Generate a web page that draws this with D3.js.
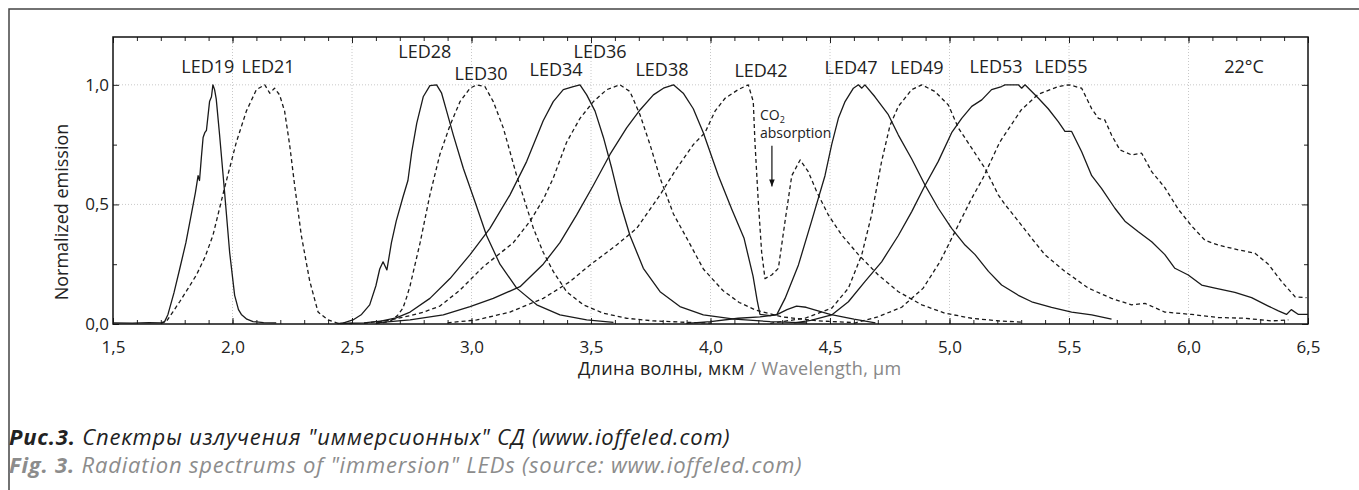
<!DOCTYPE html>
<html>
<head>
<meta charset="utf-8">
<script src="https://cdn.jsdelivr.net/npm/d3@7"></script>
<style>
  body { margin: 0; background: #fff; }
  svg { display: block; font-family: "Open Sans", sans-serif; }
</style>
</head>
<body>
<svg width="1359" height="490"></svg>
<script>
// spectra: [wavelength um, normalized emission]
var led19 = [[1.50,0.005],[1.58,0.004],[1.65,0.006],[1.70,0.005],[1.716,0.01],[1.730,0.04],[1.755,0.13],[1.779,0.23],[1.805,0.34],[1.828,0.46],[1.845,0.55],[1.856,0.62],[1.862,0.60],[1.870,0.70],[1.877,0.78],[1.884,0.80],[1.891,0.81],[1.904,0.93],[1.912,0.95],[1.918,1.0],[1.925,0.98],[1.932,0.94],[1.946,0.79],[1.967,0.55],[1.988,0.30],[2.009,0.12],[2.025,0.06],[2.037,0.04],[2.06,0.02],[2.086,0.01],[2.13,0.006],[2.183,0.005]];
var led21 = [[1.70,0.002],[1.723,0.01],[1.75,0.05],[1.779,0.093],[1.815,0.15],[1.849,0.205],[1.885,0.28],[1.918,0.37],[1.967,0.57],[2.016,0.76],[2.058,0.89],[2.100,0.98],[2.135,1.0],[2.156,0.965],[2.176,0.986],[2.197,0.958],[2.218,0.89],[2.239,0.75],[2.260,0.58],[2.288,0.37],[2.323,0.18],[2.358,0.05],[2.400,0.017],[2.441,0.003],[2.50,0.002]];
var led28 = [[2.44,0.002],[2.462,0.004],[2.504,0.017],[2.54,0.04],[2.574,0.08],[2.60,0.16],[2.616,0.23],[2.630,0.26],[2.646,0.226],[2.665,0.34],[2.685,0.43],[2.713,0.53],[2.734,0.60],[2.750,0.72],[2.771,0.84],[2.798,0.95],[2.826,0.997],[2.854,1.0],[2.875,0.965],[2.896,0.89],[2.924,0.79],[2.966,0.65],[3.015,0.51],[3.063,0.37],[3.119,0.25],[3.189,0.15],[3.273,0.08],[3.370,0.038],[3.482,0.017],[3.594,0.007]];
var led30 = [[2.60,0.002],[2.658,0.01],[2.69,0.035],[2.713,0.066],[2.728,0.11],[2.743,0.16],[2.785,0.34],[2.826,0.54],[2.868,0.71],[2.910,0.83],[2.952,0.93],[2.994,0.986],[3.022,1.0],[3.056,0.993],[3.091,0.93],[3.133,0.82],[3.161,0.72],[3.189,0.62],[3.224,0.51],[3.259,0.40],[3.300,0.30],[3.342,0.22],[3.398,0.135],[3.468,0.08],[3.552,0.045],[3.649,0.024],[3.761,0.013],[3.900,0.007],[4.0,0.004]];
var led34 = [[2.45,0.002],[2.55,0.005],[2.62,0.012],[2.685,0.026],[2.743,0.05],[2.826,0.107],[2.910,0.19],[2.994,0.29],[3.077,0.40],[3.161,0.54],[3.231,0.68],[3.300,0.85],[3.342,0.93],[3.384,0.98],[3.426,0.993],[3.454,1.0],[3.482,0.958],[3.517,0.89],[3.552,0.78],[3.587,0.65],[3.621,0.51],[3.663,0.37],[3.719,0.233],[3.789,0.135],[3.872,0.073],[3.970,0.038],[4.10,0.02],[4.25,0.01],[4.40,0.005]];
var led36 = [[2.55,0.003],[2.65,0.015],[2.743,0.035],[2.80,0.05],[2.868,0.075],[2.95,0.14],[3.05,0.24],[3.10,0.28],[3.175,0.34],[3.245,0.43],[3.30,0.52],[3.342,0.61],[3.398,0.76],[3.454,0.86],[3.510,0.93],[3.566,0.98],[3.621,1.0],[3.663,0.972],[3.705,0.875],[3.747,0.75],[3.789,0.61],[3.845,0.46],[3.90,0.36],[3.927,0.31],[3.97,0.23],[4.052,0.14],[4.12,0.09],[4.19,0.058],[4.30,0.03],[4.45,0.013],[4.60,0.006]];
var led38 = [[2.60,0.005],[2.743,0.017],[2.882,0.038],[2.994,0.073],[3.091,0.107],[3.203,0.156],[3.300,0.25],[3.370,0.34],[3.440,0.456],[3.510,0.58],[3.580,0.71],[3.649,0.82],[3.705,0.895],[3.761,0.958],[3.803,0.986],[3.845,1.0],[3.886,0.965],[3.928,0.90],[3.970,0.80],[4.033,0.62],[4.089,0.48],[4.140,0.36],[4.178,0.20],[4.195,0.10],[4.207,0.04],[4.25,0.035],[4.28,0.04],[4.32,0.06],[4.36,0.075],[4.40,0.07],[4.45,0.055],[4.50,0.04],[4.60,0.02],[4.69,0.005]];
var led42 = [[2.90,0.005],[3.022,0.017],[3.161,0.05],[3.300,0.107],[3.412,0.177],[3.496,0.247],[3.607,0.33],[3.691,0.40],[3.789,0.54],[3.858,0.65],[3.928,0.75],[3.977,0.80],[4.019,0.89],[4.061,0.944],[4.116,0.98],[4.158,1.0],[4.179,0.93],[4.186,0.76],[4.200,0.51],[4.214,0.30],[4.228,0.19],[4.256,0.205],[4.284,0.233],[4.312,0.43],[4.340,0.62],[4.375,0.686],[4.409,0.637],[4.444,0.554],[4.493,0.456],[4.549,0.372],[4.619,0.29],[4.702,0.205],[4.786,0.135],[4.884,0.08],[4.981,0.045],[5.093,0.024],[5.204,0.013],[5.30,0.008]];
var led47 = [[3.90,0.003],[4.0,0.01],[4.116,0.024],[4.207,0.03],[4.277,0.038],[4.312,0.107],[4.368,0.247],[4.423,0.43],[4.479,0.62],[4.507,0.75],[4.535,0.86],[4.563,0.93],[4.598,0.986],[4.619,1.0],[4.633,0.986],[4.646,1.0],[4.688,0.95],[4.744,0.875],[4.786,0.79],[4.842,0.69],[4.898,0.58],[4.953,0.484],[5.009,0.40],[5.065,0.33],[5.107,0.29],[5.163,0.22],[5.218,0.163],[5.288,0.12],[5.344,0.093],[5.427,0.07],[5.511,0.05],[5.595,0.038],[5.678,0.02]];
var led49 = [[4.25,0.003],[4.395,0.024],[4.507,0.066],[4.577,0.15],[4.633,0.29],[4.674,0.456],[4.716,0.68],[4.751,0.83],[4.786,0.91],[4.842,0.98],[4.884,1.0],[4.939,0.972],[4.995,0.916],[5.037,0.82],[5.093,0.735],[5.149,0.65],[5.204,0.54],[5.232,0.50],[5.288,0.43],[5.344,0.358],[5.399,0.29],[5.483,0.22],[5.581,0.15],[5.678,0.107],[5.762,0.08],[5.818,0.086],[5.901,0.05],[6.013,0.04],[6.125,0.027],[6.236,0.024],[6.348,0.013],[6.418,0.017]];
var led53 = [[4.35,0.005],[4.42,0.015],[4.507,0.038],[4.577,0.093],[4.646,0.177],[4.716,0.26],[4.786,0.37],[4.842,0.47],[4.898,0.58],[4.953,0.68],[5.009,0.80],[5.051,0.86],[5.093,0.91],[5.135,0.937],[5.176,0.98],[5.218,0.993],[5.232,1.0],[5.288,1.0],[5.302,0.986],[5.316,1.0],[5.344,0.972],[5.372,0.944],[5.413,0.90],[5.455,0.846],[5.483,0.805],[5.511,0.805],[5.553,0.72],[5.595,0.62],[5.636,0.567],[5.692,0.484],[5.734,0.43],[5.790,0.386],[5.846,0.344],[5.901,0.29],[5.943,0.233],[5.999,0.205],[6.055,0.163],[6.111,0.15],[6.194,0.132],[6.264,0.11],[6.334,0.075],[6.376,0.055],[6.41,0.04],[6.43,0.06],[6.46,0.04],[6.50,0.04]];
var led55 = [[4.60,0.003],[4.70,0.03],[4.80,0.07],[4.89,0.15],[4.96,0.26],[5.02,0.38],[5.09,0.52],[5.14,0.61],[5.21,0.76],[5.30,0.895],[5.37,0.96],[5.455,0.993],[5.50,1.0],[5.553,0.986],[5.595,0.90],[5.623,0.86],[5.650,0.853],[5.678,0.79],[5.713,0.728],[5.762,0.707],[5.804,0.714],[5.846,0.637],[5.901,0.57],[5.957,0.48],[6.013,0.41],[6.069,0.35],[6.125,0.33],[6.208,0.31],[6.278,0.296],[6.334,0.25],[6.390,0.177],[6.446,0.114],[6.494,0.11]];

var seriesNames = ["LED19","LED21","LED28","LED30","LED34","LED36","LED38","LED42","LED47","LED49","LED53","LED55"];
var seriesData = [led19, led21, led28, led30, led34, led36, led38, led42, led47, led49, led53, led55];
// where each name sits, in data units (wavelength, emission)
var labelX = [1.897, 2.149, 2.805, 3.040, 3.354, 3.538, 3.797, 4.211, 4.588, 4.864, 5.195, 5.467];
var labelY = [1.050, 1.050, 1.113, 1.021, 1.038, 1.113, 1.038, 1.033, 1.046, 1.046, 1.050, 1.050];

var xTicks = [1.5, 2.0, 2.5, 3.0, 3.5, 4.0, 4.5, 5.0, 5.5, 6.0, 6.5];
var yTicks = [0, 0.5, 1.0];

var svg = d3.select("svg"),
    width = +svg.attr("width"),
    height = +svg.attr("height");

// plot box (note: "top" is taken by window.top)
var pLeft = 113, pRight = 1308, pTop = 37, pBottom = 324;

var x = d3.scaleLinear().domain([1.5, 6.5]).range([pLeft, pRight]);
var y = d3.scaleLinear().domain([0, 1.2]).range([pBottom, pTop]);
var fmt = function(d) { return d3.format(".1f")(d).replace(".", ","); };

// outer frame (runs off the right and bottom edges)
svg.append("path")
    .attr("d", "M9," + (height + 5) + "V9H" + (width + 5))
    .attr("fill", "none")
    .attr("stroke", "#444")
    .attr("stroke-width", 1.5);

// dotted grid
var grid = svg.append("g").attr("stroke", "#c8c8c8").attr("stroke-dasharray", "1,2");
grid.selectAll("line.v")
    .data(xTicks.slice(1, -1))
    .enter().append("line").attr("class", "v")
    .attr("x1", d => x(d)).attr("x2", d => x(d))
    .attr("y1", pTop).attr("y2", pBottom);
grid.selectAll("line.h")
    .data(yTicks.slice(1))
    .enter().append("line").attr("class", "h")
    .attr("x1", pLeft).attr("x2", pRight)
    .attr("y1", d => y(d)).attr("y2", d => y(d));

// axes, ticks pointing inwards
var minorX = d3.range(15, 66).map(d => d / 10);
var minorY = [0.25, 0.75];

function noLabels(g) { g.selectAll("text").remove(); g.select(".domain").remove(); }

svg.append("g").attr("transform", "translate(0," + pBottom + ")")
    .call(d3.axisBottom(x).tickValues(minorX).tickSize(-4)).call(noLabels);
svg.append("g").attr("transform", "translate(0," + pTop + ")")
    .call(d3.axisTop(x).tickValues(minorX).tickSize(-4)).call(noLabels);
svg.append("g").attr("transform", "translate(0," + pTop + ")")
    .call(d3.axisTop(x).tickValues(xTicks).tickSize(-6)).call(noLabels);
svg.append("g").attr("transform", "translate(" + pLeft + ",0)")
    .call(d3.axisLeft(y).tickValues(minorY).tickSize(-4)).call(noLabels);
svg.append("g").attr("transform", "translate(" + pRight + ",0)")
    .call(d3.axisRight(y).tickValues(minorY).tickSize(-4)).call(noLabels);
svg.append("g").attr("transform", "translate(" + pRight + ",0)")
    .call(d3.axisRight(y).tickValues(yTicks).tickSize(-6)).call(noLabels);

var xAxis = svg.append("g").attr("transform", "translate(0," + pBottom + ")")
    .call(d3.axisBottom(x).tickValues(xTicks).tickFormat(fmt).tickSize(-6).tickPadding(17));
var yAxis = svg.append("g").attr("transform", "translate(" + pLeft + ",0)")
    .call(d3.axisLeft(y).tickValues(yTicks).tickFormat(fmt).tickSize(-6).tickPadding(4));
[xAxis, yAxis].forEach(function(g) {
  g.select(".domain").remove();
  g.selectAll("text").attr("font-size", 17).attr("font-family", "Open Sans").attr("fill", "#222");
});
svg.selectAll(".tick line").attr("stroke", "#222");

// plot frame
svg.append("rect")
    .attr("x", pLeft).attr("y", pTop)
    .attr("width", pRight - pLeft).attr("height", pBottom - pTop)
    .attr("fill", "none").attr("stroke", "#111").attr("stroke-width", 1.5);

// spectra
var line = d3.line().x(d => x(d[0])).y(d => y(d[1]));
svg.append("g").selectAll("path")
    .data(seriesData)
    .enter().append("path")
    .attr("d", line)
    .attr("fill", "none")
    .attr("stroke", "#1a1a1a")
    .attr("stroke-width", 1.3)
    .attr("stroke-linejoin", "round")
    .attr("stroke-dasharray", (d, i) => i % 2 ? "4,3" : null);

// series names
svg.append("g").selectAll("text")
    .data(seriesNames)
    .enter().append("text")
    .attr("x", (d, i) => x(labelX[i]))
    .attr("y", (d, i) => y(labelY[i]))
    .attr("text-anchor", "middle")
    .attr("font-size", 18)
    .attr("fill", "#222")
    .text(d => d);

svg.append("text")
    .attr("x", x(6.232)).attr("y", y(1.05))
    .attr("text-anchor", "middle").attr("font-size", 18).attr("fill", "#222")
    .text("22°C");

// CO2 note
var co2 = svg.append("text")
    .attr("x", x(4.207)).attr("y", y(0.855))
    .attr("font-size", 14).attr("fill", "#222");
co2.append("tspan").text("CO");
co2.append("tspan").attr("font-size", 9).attr("dy", 3).text("2");
svg.append("text")
    .attr("x", x(4.207)).attr("y", y(0.779))
    .attr("font-size", 14).attr("fill", "#222")
    .text("absorption");

svg.append("defs").append("marker")
    .attr("id", "arrow").attr("viewBox", "0 0 10 10")
    .attr("refX", 10).attr("refY", 5)
    .attr("markerWidth", 7).attr("markerHeight", 7)
    .attr("markerUnits", "userSpaceOnUse")
    .attr("orient", "auto")
  .append("path").attr("d", "M0,1L10,5L0,9Z").attr("fill", "#111");
svg.append("line")
    .attr("x1", x(4.257)).attr("x2", x(4.257))
    .attr("y1", y(0.745)).attr("y2", y(0.575))
    .attr("stroke", "#111").attr("stroke-width", 1.2)
    .attr("marker-end", "url(#arrow)");

// axis titles
svg.append("text")
    .attr("transform", "translate(68," + 212 + ") rotate(-90)")
    .attr("text-anchor", "middle").attr("font-size", 18).attr("fill", "#222")
    .text("Normalized emission");

var xt = svg.append("text")
    .attr("x", 578).attr("y", 375)
    .attr("font-size", 18).attr("letter-spacing", 0.3);
xt.append("tspan").attr("fill", "#222").text("Длина волны, мкм");
xt.append("tspan").attr("fill", "#888").text(" / Wavelength, µm");

// figure caption
var c1 = svg.append("text")
    .attr("x", 9).attr("y", 445)
    .attr("font-size", 22).attr("letter-spacing", 0.8)
    .attr("font-style", "italic").attr("fill", "#222");
c1.append("tspan").attr("font-weight", "bold").text("Рис.3.");
c1.append("tspan").text(" Спектры излучения \"иммерсионных\" СД (www.ioffeled.com)");

var c2 = svg.append("text")
    .attr("x", 9).attr("y", 473)
    .attr("font-size", 22).attr("letter-spacing", 0.8)
    .attr("font-style", "italic").attr("fill", "#8c8c8c");
c2.append("tspan").attr("font-weight", "bold").text("Fig. 3.");
c2.append("tspan").text(" Radiation spectrums of \"immersion\" LEDs (source: www.ioffeled.com)");
</script>
</body>
</html>
